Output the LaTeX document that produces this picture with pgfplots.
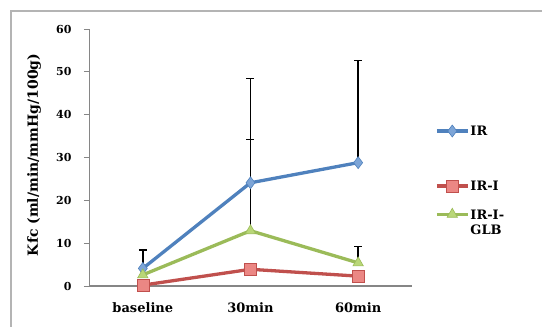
\documentclass[border=0pt]{standalone}
\usepackage{fontspec}
\setmainfont{DejaVu Serif}
\usepackage{pgfplots}
\pgfplotsset{compat=1.18}
\definecolor{irblue}{RGB}{79,129,189}
\definecolor{irbluef}{RGB}{125,165,215}
\definecolor{irred}{RGB}{192,80,77}
\definecolor{irredf}{RGB}{235,135,132}
\definecolor{irgreen}{RGB}{155,187,89}
\definecolor{irgreenf}{RGB}{185,215,120}
\definecolor{axgray}{RGB}{134,134,134}
\definecolor{framegray}{RGB}{180,180,180}
\pgfplotsset{
  common/.style={at={(89pt,41pt)}, anchor=south west, scale only axis,
    width=323pt, height=257pt, xmin=-0.5, xmax=2.5, ymin=0, ymax=60},
  serIR/.style={irblue, line width=3.3pt, mark=diamond*, mark size=6pt,
    mark options={solid, fill=irbluef, draw=irblue, line width=0.6pt}},
  serI/.style={irred, line width=3.3pt, mark=square*, mark size=6pt,
    mark options={solid, fill=irredf, draw=irred, line width=0.6pt}},
  serG/.style={irgreen, line width=3.3pt, mark=triangle*, mark size=6pt,
    mark options={solid, fill=irgreenf, draw=irgreen, line width=0.6pt}},
  leg/.style={hide axis, legend cell align=left,
    legend style={draw=none, fill=none, inner sep=0pt,
      font=\fontsize{13}{15}\selectfont\bfseries,
      cells={align=left}, nodes={inner sep=1pt}},
    legend image code/.code={\draw[mark repeat=2, mark phase=2]
      plot coordinates {(0pt,0pt) (15.5pt,0pt) (31pt,0pt)};}},
  errs/.style={error bars/.cd, y dir=plus, y explicit,
    error bar style={black, line width=1.5pt, solid},
    error mark options={rotate=90, mark size=4pt, black, line width=1.3pt}},
}
\begin{document}
\begin{tikzpicture}[x=1pt,y=1pt]
\useasboundingbox (0,0) rectangle (542,327);
\draw[framegray, line width=1.2pt] (11,0) -- (11,316) -- (542,316);
\begin{axis}[common,
  /pgf/number format/assume math mode=true,
  axis lines=left,
  axis line style={axgray, line width=0.9pt, -},
  x axis line style={line width=1.6pt},
  xtick={0,1,2}, xticklabels={baseline,30min,60min},
  x tick style={draw=none},
  extra x ticks={-0.5,0.5,1.5,2.5}, extra x tick labels={},
  extra x tick style={tick style={axgray, line width=0.9pt, draw=axgray}},
  ytick={0,10,...,60}, tick align=outside, major tick length=5pt,
  y tick style={axgray, line width=0.9pt},
  yticklabel style={font=\fontsize{11}{13}\selectfont\bfseries, xshift=-9pt},
  xticklabel style={font=\fontsize{13}{15}\selectfont\bfseries, yshift=-8pt},
  ylabel={Kfc (ml/min/mmHg/100g)},
  ylabel style={font=\fontsize{14}{16}\selectfont\bfseries,
    at={(axis description cs:-0.170,0.51)}, anchor=center},
  clip=false,
]
\addplot[serIR, errs] coordinates {(0,4.1) +- (0,4.3) (1,24.1) +- (0,24.4) (2,28.8) +- (0,23.8)};
\addplot[serI] coordinates {(0,0.2) (1,3.9) (2,2.3)};
\addplot[serG, errs] coordinates {(0,2.6) (1,12.9) +- (0,21.3) (2,5.4) +- (0,3.8)};
\end{axis}
\begin{axis}[common, leg, legend style={at={(1.071,0.603)}, anchor=west}]
\addlegendimage{serIR}
\addlegendentry{IR}
\end{axis}
\begin{axis}[common, leg, legend style={at={(1.071,0.389)}, anchor=west}]
\addlegendimage{serI}
\addlegendentry{IR-I}
\end{axis}
\begin{axis}[common, leg, legend style={at={(1.071,0.246)}, anchor=west},
  legend image code/.code={\draw[mark repeat=2, mark phase=2]
      plot coordinates {(0pt,9pt) (15.5pt,9pt) (31pt,9pt)};}]
\addlegendimage{serG}
\addlegendentry{IR-I-\\GLB}
\end{axis}
\end{tikzpicture}
\end{document}
